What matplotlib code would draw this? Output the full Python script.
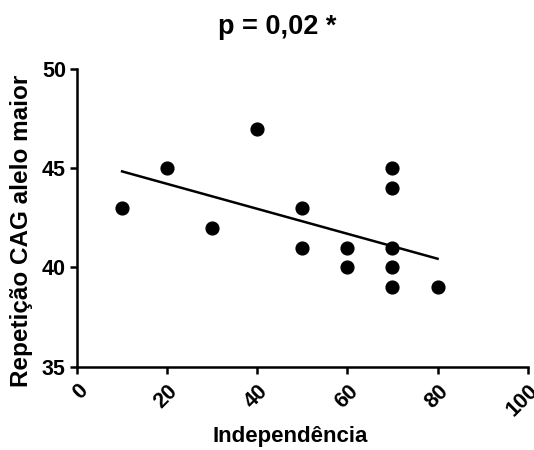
import matplotlib
matplotlib.use("Agg")
import matplotlib.pyplot as plt

independencia = [10, 20, 30, 40, 50, 50, 60, 60, 70, 70, 70, 70, 70, 80]
repeticao_cag = [43, 45, 42, 47, 43, 41, 41, 40, 45, 44, 41, 40, 39, 39]
fit_x = [10, 80]
fit_y = [44.84, 40.44]
x_ticks = [0, 20, 40, 60, 80, 100]
y_ticks = [35, 40, 45, 50]

plt.rcParams['font.family'] = ['Liberation Sans', 'DejaVu Sans']
plt.rcParams['font.weight'] = 'bold'

fig = plt.figure(figsize=(5.34, 4.5), dpi=100)
ax = fig.add_axes([0.1442, 0.1851, 0.8440, 0.6616])

ax.plot(independencia, repeticao_cag, 'o', color='black', markersize=9.2, clip_on=False, zorder=3)
ax.plot(fit_x, fit_y, '-', color='black', linewidth=1.8, zorder=2)

ax.set_xlim(0, 100)
ax.set_ylim(35, 50)
ax.set_xticks(x_ticks)
ax.set_yticks(y_ticks)
ax.set_xticklabels([str(v) for v in x_ticks], rotation=45, ha='right', va='top',
                   rotation_mode='anchor', fontsize=15.5, fontweight='bold')
ax.set_yticklabels([str(v) for v in y_ticks], fontsize=15.5, fontweight='bold')

for s in ['top', 'right']:
    ax.spines[s].set_visible(False)
for s in ['left', 'bottom']:
    ax.spines[s].set_linewidth(1.8)
ax.tick_params(axis='both', width=1.8, length=5, direction='out')
ax.tick_params(axis='x', pad=5)
ax.tick_params(axis='y', pad=3)

ax.set_xlabel('Independência', fontsize=16, fontweight='bold', va='center')
ax.xaxis.set_label_coords(0.473, -0.236)
ax.set_ylabel('Repetição CAG alelo maior', fontsize=17.5, fontweight='bold', va='center')
ax.yaxis.set_label_coords(-0.124, 0.456)
fig.text(277.5 / 534, 1 - 27 / 450, 'p = 0,02 *', fontsize=19.5, fontweight='bold',
         ha='center', va='center')

fig.savefig('out.png', dpi=100)
